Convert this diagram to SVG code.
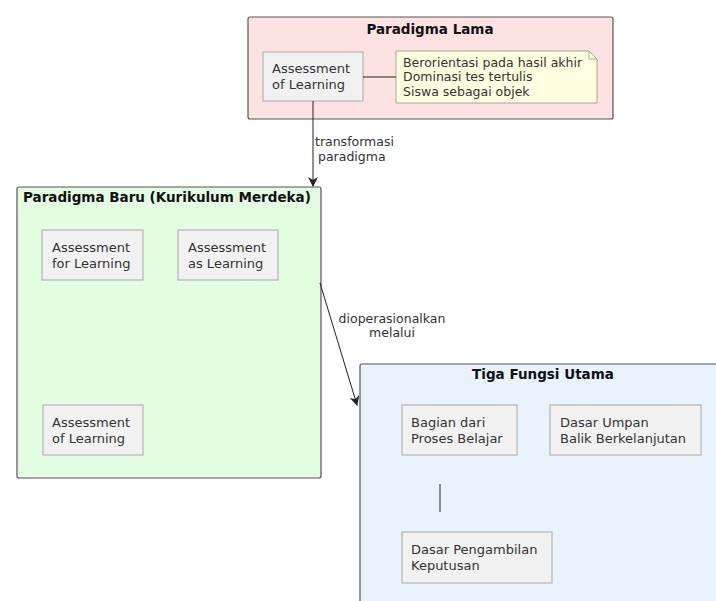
<svg xmlns="http://www.w3.org/2000/svg" width="716" height="601" viewBox="0 0 716 601">
<style>
text{font-family:"DejaVu Sans","Liberation Sans",sans-serif;fill:#222;}
.t{font-size:13.5px;font-weight:bold;fill:#111;}
.n{font-size:13px;fill:#333;}
.l{font-size:12.5px;fill:#333;}
.pkg{stroke:#555;stroke-width:1.2;}
.node{fill:#F1F1F1;stroke:#A8A8A8;stroke-width:1;}
.edge{stroke:#222;stroke-width:1;fill:none;}
</style>
<defs>
<marker id="ah" viewBox="0 0 10 10" refX="9" refY="5" markerWidth="10" markerHeight="10" markerUnits="userSpaceOnUse" orient="auto">
<path d="M0,0 L10,5 L0,10 L3,5 Z" fill="#222"/>
</marker>
</defs>
<rect width="716" height="601" fill="#fff"/>
<g id="paradigma-lama">
<rect class="pkg" x="248" y="17" width="365" height="102" rx="2" fill="#FDE2E2"/>
<text class="t" x="430" y="34" text-anchor="middle">Paradigma Lama</text>
</g>
<g id="lama-aol">
<rect class="node" x="263" y="52" width="100" height="49"/>
<text class="n" x="272" y="73">Assessment</text>
<text class="n" x="272" y="89">of Learning</text>
</g>
<g id="note">
<path d="M396,51 H589 L597,59 V103 H396 Z" fill="#FDFDE0" stroke="#A8A8A0" stroke-width="1"/>
<path d="M589,51 V59 H597" fill="none" stroke="#A8A8A0" stroke-width="1"/>
<text class="l" x="403" y="67">Berorientasi pada hasil akhir</text>
<text class="l" x="403" y="81">Dominasi tes tertulis</text>
<text class="l" x="403" y="96">Siswa sebagai objek</text>
</g>
<g id="paradigma-baru">
<rect class="pkg" x="17" y="187" width="304" height="291" rx="2" fill="#E3FDE3"/>
<text class="t" x="23" y="202">Paradigma Baru (Kurikulum Merdeka)</text>
</g>
<g id="afl">
<rect class="node" x="42" y="230" width="101" height="50"/>
<text class="n" x="52" y="252">Assessment</text>
<text class="n" x="52" y="268">for Learning</text>
</g>
<g id="aal">
<rect class="node" x="178" y="230" width="100" height="50"/>
<text class="n" x="188" y="252">Assessment</text>
<text class="n" x="188" y="268">as Learning</text>
</g>
<g id="baru-aol">
<rect class="node" x="43" y="405" width="100" height="50"/>
<text class="n" x="52" y="427">Assessment</text>
<text class="n" x="52" y="443">of Learning</text>
</g>
<g id="tiga-fungsi">
<rect class="pkg" x="360" y="364" width="370" height="250" rx="2" fill="#E8F3FE"/>
<text class="t" x="543" y="379" text-anchor="middle">Tiga Fungsi Utama</text>
</g>
<g id="bagian">
<rect class="node" x="402" y="405" width="115" height="50"/>
<text class="n" x="411" y="427">Bagian dari</text>
<text class="n" x="411" y="443">Proses Belajar</text>
</g>
<g id="umpan">
<rect class="node" x="550" y="405" width="151" height="50"/>
<text class="n" x="560" y="427">Dasar Umpan</text>
<text class="n" x="560" y="443">Balik Berkelanjutan</text>
</g>
<g id="keputusan">
<rect class="node" x="402" y="532" width="150" height="51"/>
<text class="n" x="411" y="554">Dasar Pengambilan</text>
<text class="n" x="411" y="570">Keputusan</text>
</g>
<g id="connectors">
<line class="edge" x1="363" y1="77" x2="396" y2="77" stroke="#A8A8A0"/>
<line class="edge" x1="313" y1="101" x2="313" y2="186" marker-end="url(#ah)"/>
<text class="l" x="315" y="146">transformasi</text>
<text class="l" x="318" y="161">paradigma</text>
<line class="edge" x1="320" y1="283" x2="357" y2="405" marker-end="url(#ah)"/>
<text class="l" x="392" y="323" text-anchor="middle">dioperasionalkan</text>
<text class="l" x="392" y="337" text-anchor="middle">melalui</text>
<line class="edge" x1="440" y1="484" x2="440" y2="512" stroke-width="1.5"/>
</g>
</svg>
